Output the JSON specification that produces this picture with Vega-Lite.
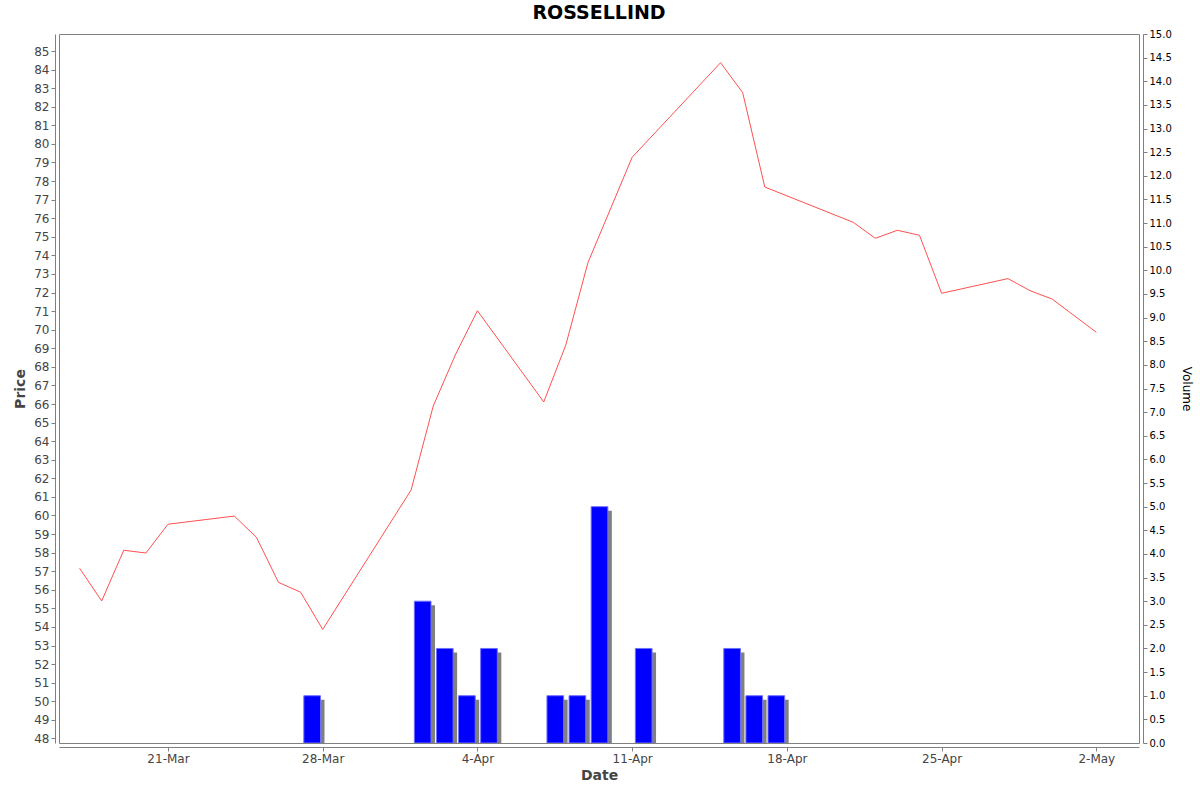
{
  "$schema": "https://vega.github.io/schema/vega-lite/v6.json",
  "autosize": {"type": "none"},
  "width": 1080,
  "height": 709,
  "padding": {"left": 59, "top": 34, "right": 61, "bottom": 49},
  "background": "white",
  "title": {
    "text": "ROSSELLIND",
    "font": "DejaVu Sans",
    "fontSize": 19,
    "fontWeight": "bold",
    "color": "black",
    "anchor": "middle",
    "offset": 6
  },
  "config": {
    "view": {"stroke": "#808080", "strokeWidth": 1},
    "axis": {
      "grid": false,
      "domainColor": "#808080",
      "tickColor": "#808080",
      "labelFont": "DejaVu Sans",
      "titleFont": "DejaVu Sans",
      "offset": 4,
      "tickSize": 4
    }
  },
  "data": {
    "values": [
      {"date": "2025/03/17", "price": 57.16, "volume": 0},
      {"date": "2025/03/18", "price": 55.40, "volume": 0},
      {"date": "2025/03/19", "price": 58.13, "volume": 0},
      {"date": "2025/03/20", "price": 57.98, "volume": 0},
      {"date": "2025/03/21", "price": 59.53, "volume": 0},
      {"date": "2025/03/24", "price": 59.97, "volume": 0},
      {"date": "2025/03/25", "price": 58.83, "volume": 0},
      {"date": "2025/03/26", "price": 56.40, "volume": 0},
      {"date": "2025/03/27", "price": 55.87, "volume": 1},
      {"date": "2025/03/28", "price": 53.87, "volume": 0},
      {"date": "2025/04/01", "price": 61.37, "volume": 3},
      {"date": "2025/04/02", "price": 65.89, "volume": 2},
      {"date": "2025/04/03", "price": 68.64, "volume": 1},
      {"date": "2025/04/04", "price": 71.02, "volume": 2},
      {"date": "2025/04/07", "price": 66.11, "volume": 1},
      {"date": "2025/04/08", "price": 69.18, "volume": 1},
      {"date": "2025/04/09", "price": 73.61, "volume": 5},
      {"date": "2025/04/11", "price": 79.28, "volume": 2},
      {"date": "2025/04/15", "price": 84.37, "volume": 2},
      {"date": "2025/04/16", "price": 82.76, "volume": 1},
      {"date": "2025/04/17", "price": 77.68, "volume": 1},
      {"date": "2025/04/21", "price": 75.78, "volume": 0},
      {"date": "2025/04/22", "price": 74.92, "volume": 0},
      {"date": "2025/04/23", "price": 75.35, "volume": 0},
      {"date": "2025/04/24", "price": 75.08, "volume": 0},
      {"date": "2025/04/25", "price": 71.96, "volume": 0},
      {"date": "2025/04/28", "price": 72.75, "volume": 0},
      {"date": "2025/04/29", "price": 72.10, "volume": 0},
      {"date": "2025/04/30", "price": 71.65, "volume": 0},
      {"date": "2025/05/02", "price": 69.86, "volume": 0}
    ]
  },
  "layer": [
    {
      "transform": [{"filter": "datum.volume > 0"}],
      "encoding": {
        "x": {
          "field": "date",
          "type": "temporal",
          "timeUnit": "yearmonthdate",
          "scale": {
            "domain": [
              {"year": 2025, "month": 3, "date": 16, "hours": 1, "minutes": 40},
              {"year": 2025, "month": 5, "date": 3, "hours": 22, "minutes": 20}
            ]
          },
          "axis": {
            "title": "Date",
            "titleFontSize": 14,
            "titleFontWeight": "bold",
            "titleColor": "#444444",
            "titlePadding": 4,
            "labelFontSize": 12,
            "labelColor": "#444444",
            "format": "%-d-%b",
            "values": [
              {"year": 2025, "month": 3, "date": 21},
              {"year": 2025, "month": 3, "date": 28},
              {"year": 2025, "month": 4, "date": 4},
              {"year": 2025, "month": 4, "date": 11},
              {"year": 2025, "month": 4, "date": 18},
              {"year": 2025, "month": 4, "date": 25},
              {"year": 2025, "month": 5, "date": 2}
            ]
          }
        },
        "y": {
          "field": "volume",
          "type": "quantitative",
          "scale": {"domain": [0, 15], "nice": false},
          "axis": {
            "orient": "right",
            "title": "Volume",
            "titleFontSize": 12,
            "titleFontWeight": "normal",
            "titleColor": "black",
            "titlePadding": 8,
            "labelFontSize": 10,
            "labelColor": "black",
            "format": ".1f",
            "values": [0, 0.5, 1, 1.5, 2, 2.5, 3, 3.5, 4, 4.5, 5, 5.5, 6, 6.5, 7, 7.5, 8, 8.5, 9, 9.5, 10, 10.5, 11, 11.5, 12, 12.5, 13, 13.5, 14, 14.5, 15]
          }
        }
      },
      "layer": [
        {
          "mark": {"type": "bar", "color": "#808080", "width": {"band": 0.8}, "xOffset": 4, "yOffset": 4, "clip": true}
        },
        {
          "mark": {"type": "bar", "color": "#0000ff", "stroke": "#7070ff", "strokeWidth": 1, "width": {"band": 0.8}, "xOffset": 0, "clip": true}
        }
      ]
    },
    {
      "mark": {"type": "line", "color": "#ff5050", "strokeWidth": 1, "clip": true},
      "encoding": {
        "x": {"field": "date", "type": "temporal"},
        "y": {
          "field": "price",
          "type": "quantitative",
          "scale": {"domain": [47.755, 85.915], "nice": false, "zero": false},
          "axis": {
            "orient": "left",
            "title": "Price",
            "titleFontSize": 14,
            "titleFontWeight": "bold",
            "titleColor": "#444444",
            "titlePadding": 6,
            "labelFontSize": 12,
            "labelColor": "#444444",
            "values": [48, 49, 50, 51, 52, 53, 54, 55, 56, 57, 58, 59, 60, 61, 62, 63, 64, 65, 66, 67, 68, 69, 70, 71, 72, 73, 74, 75, 76, 77, 78, 79, 80, 81, 82, 83, 84, 85]
          }
        }
      }
    }
  ],
  "resolve": {"scale": {"y": "independent"}}
}
